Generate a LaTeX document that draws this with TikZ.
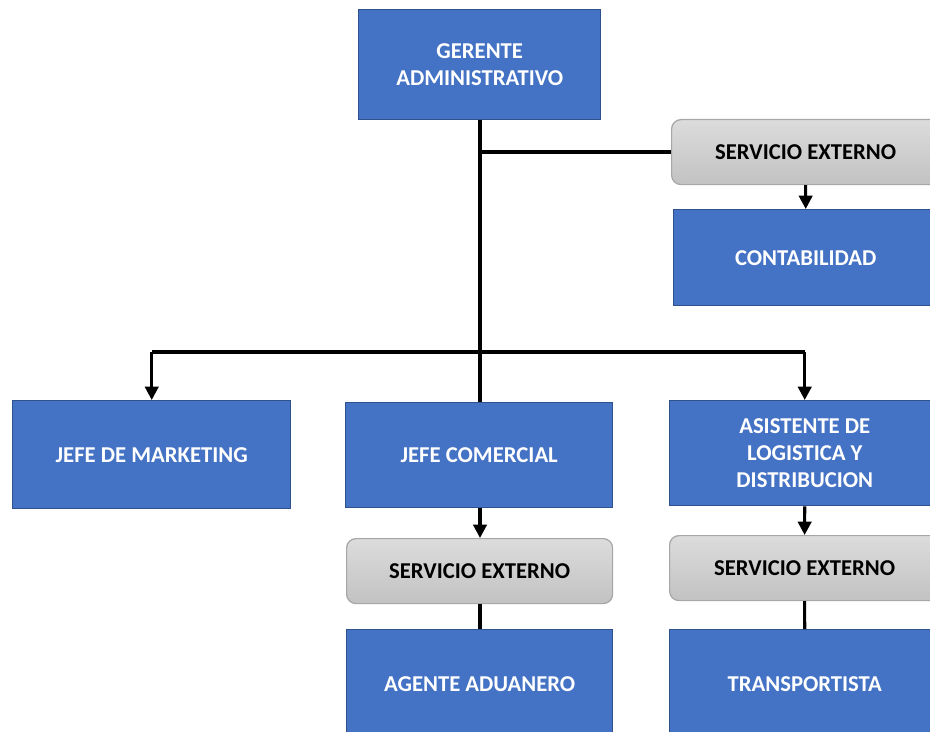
\documentclass[tikz,border=0pt]{standalone}
\usepackage{fontspec}
\setmainfont{Carlito}
\usetikzlibrary{arrows.meta}
\definecolor{boxblue}{HTML}{4472C4}
\definecolor{boxedge}{HTML}{2F528F}
\definecolor{greytop}{HTML}{DCDCDC}
\definecolor{greybot}{HTML}{C2C2C2}
\definecolor{greyedge}{HTML}{A6A6A6}
\tikzset{
  bluebox/.style={draw=boxedge, line width=1.1pt, fill=boxblue, text=white,
    font=\bfseries\fontsize{17}{20.5}\selectfont, align=center, anchor=north west, inner sep=0pt},
  greybox/.style={draw=greyedge, line width=0.9pt, top color=greytop, bottom color=greybot,
    rounded corners=7pt, text=black,
    font=\bfseries\fontsize{17}{20.5}\selectfont, align=center, anchor=north west, inner sep=0pt},
  conn/.style={line width=2.3pt, black},
  arr/.style={conn, -{Triangle[width=10pt,length=10pt]}}
}
\begin{document}
\begin{tikzpicture}[x=0.75pt,y=-0.75pt]
\useasboundingbox (0,0) rectangle (930,731);
\clip (0,0) rectangle (930,731);
\node[bluebox, minimum width={242*0.75pt}, minimum height={110*0.75pt}] (ger) at (358,9) {GERENTE\\ADMINISTRATIVO};
\node[greybox, minimum width={268*0.75pt}, minimum height={65*0.75pt}] (se1) at (671,119) {SERVICIO EXTERNO};
\node[bluebox, minimum width={264*0.75pt}, minimum height={96*0.75pt}] (cont) at (673,209) {CONTABILIDAD};
\node[bluebox, minimum width={278*0.75pt}, minimum height={108*0.75pt}] (mkt) at (12,400) {JEFE DE MARKETING};
\node[bluebox, minimum width={267*0.75pt}, minimum height={105*0.75pt}] (com) at (345,402) {JEFE COMERCIAL};
\node[bluebox, minimum width={270*0.75pt}, minimum height={105*0.75pt}] (asi) at (669,400) {ASISTENTE DE\\LOGISTICA Y\\DISTRIBUCION};
\node[greybox, minimum width={266*0.75pt}, minimum height={65*0.75pt}] (se2) at (346,538) {SERVICIO EXTERNO};
\node[greybox, minimum width={270*0.75pt}, minimum height={65*0.75pt}] (se3) at (669,535) {SERVICIO EXTERNO};
\node[bluebox, minimum width={266*0.75pt}, minimum height={108*0.75pt}] (adu) at (346,629) {AGENTE ADUANERO};
\node[bluebox, minimum width={270*0.75pt}, minimum height={108*0.75pt}] (tra) at (669,629) {TRANSPORTISTA};
\coordinate (bus) at (480,352);
\coordinate (tee) at (480,152);
\draw[conn] (ger.south -| bus) -- (com.north -| bus);
\draw[conn] (tee) -- (tee -| se1.west);
\draw[conn] (bus) -- (bus -| mkt.north);
\draw[conn] (bus) -- (bus -| asi.north);
\draw[arr] (bus -| mkt.north) -- (mkt.north);
\draw[arr] (bus -| asi.north) -- (asi.north);
\draw[arr] (se1.south) -- (cont.north);
\draw[arr] (com.south -| bus) -- (se2.north -| bus);
\draw[conn] (se2.south -| bus) -- (adu.north -| bus);
\draw[arr] (asi.south) -- (se3.north);
\draw[conn] (se3.south) -- (tra.north);
\end{tikzpicture}
\end{document}
